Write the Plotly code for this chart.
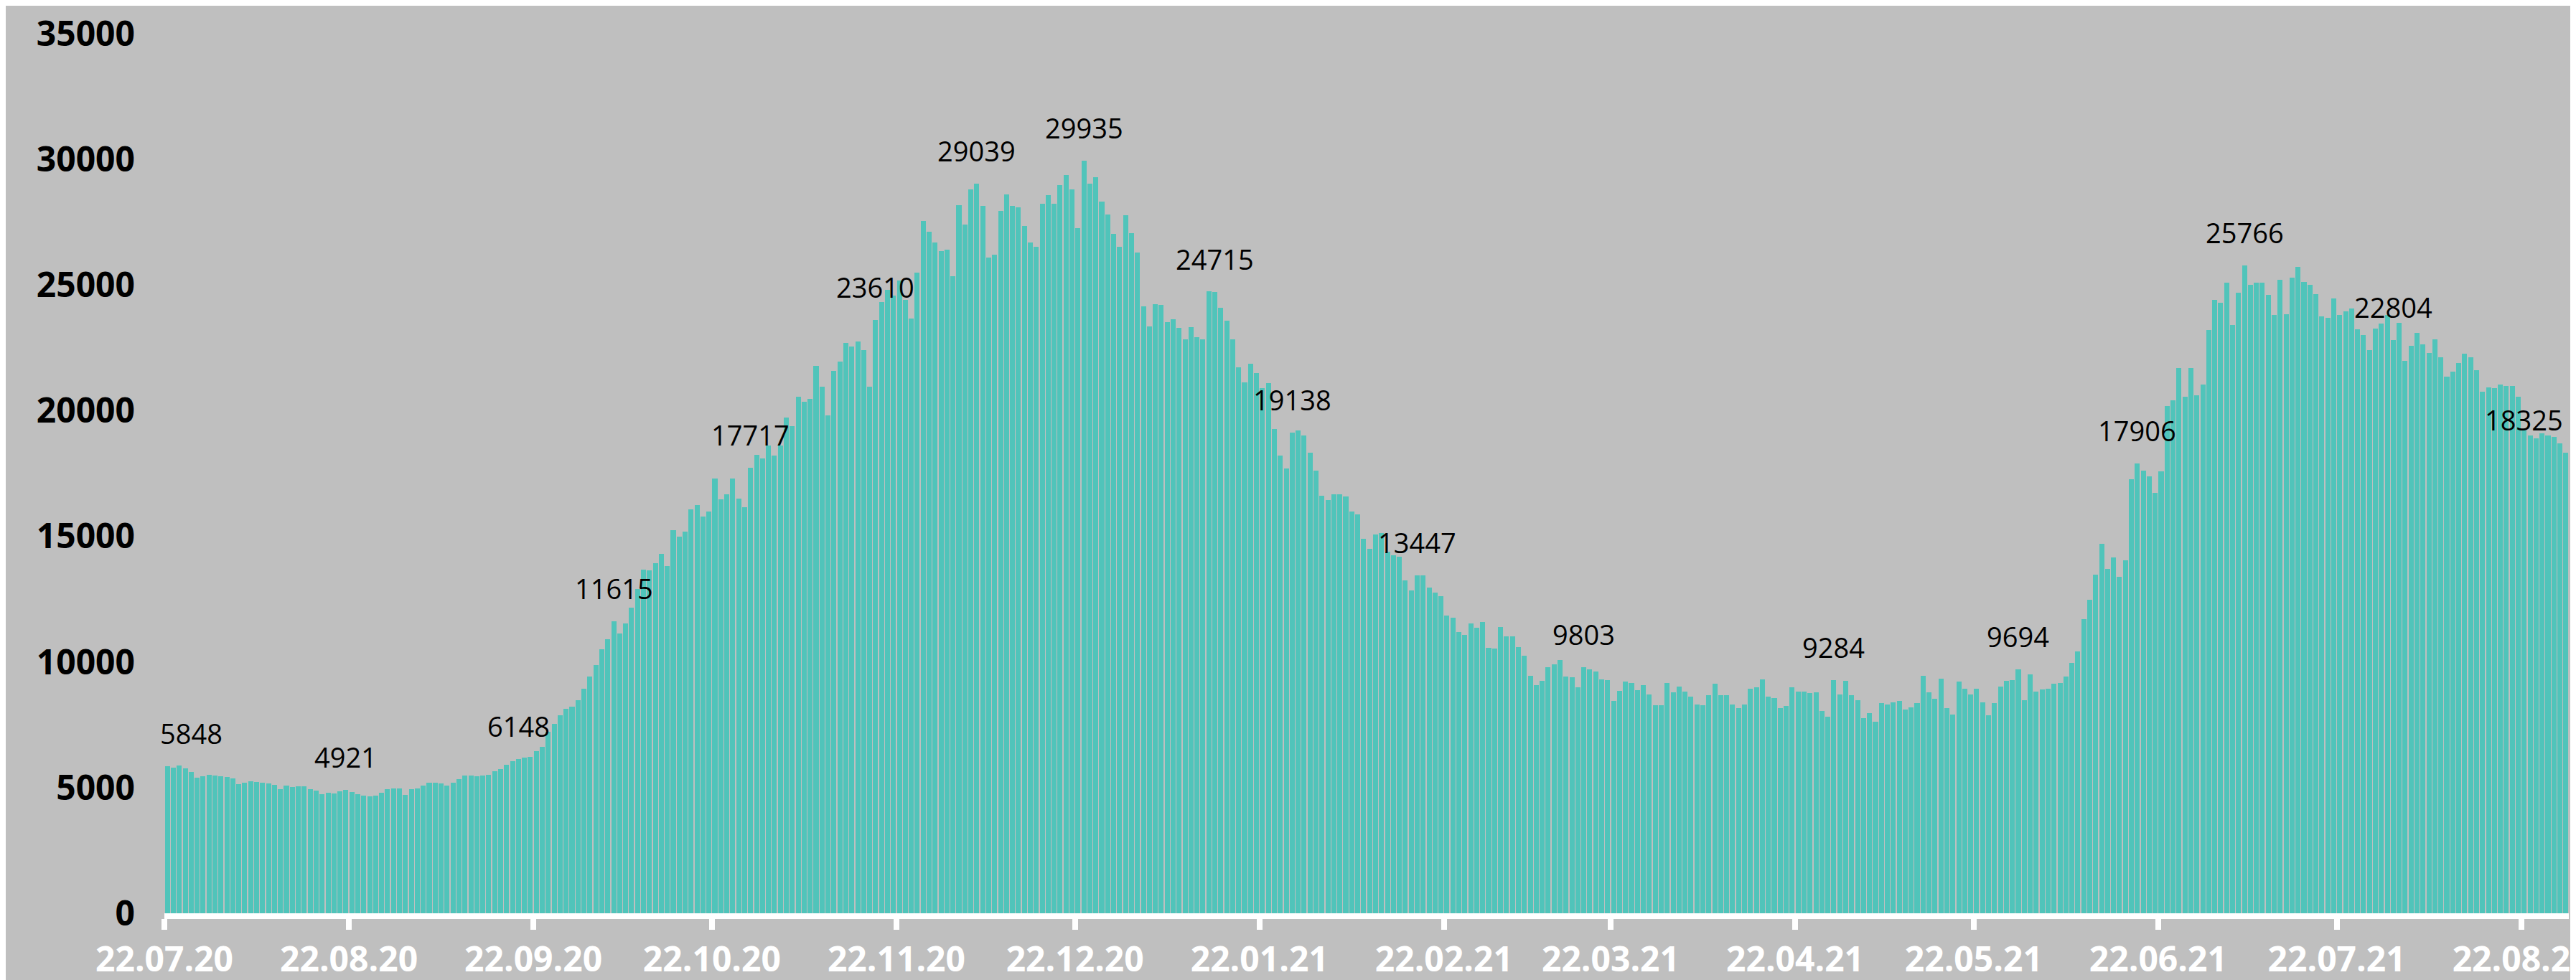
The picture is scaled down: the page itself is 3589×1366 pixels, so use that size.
import plotly.graph_objects as go

values = [
    5848, 5800, 5868, 5761, 5626, 5394, 5462, 5500, 5481, 5452,
    5413, 5375, 5152, 5201, 5249, 5230, 5201, 5172, 5104, 4930,
    5085, 5036, 5046, 5046, 4949, 4872, 4727, 4804, 4756, 4843,
    4921, 4833, 4727, 4669, 4640, 4679, 4804, 4930, 4959, 4969,
    4698, 4930, 4978, 5085, 5191, 5191, 5162, 5075, 5201, 5336,
    5491, 5481, 5442, 5491, 5510, 5665, 5752, 5906, 6061, 6148,
    6206, 6225, 6438, 6612, 7230, 7540, 7880, 8150, 8223, 8468,
    8936, 9415, 9872, 10511, 10915, 11615, 11138, 11521, 12170, 12894,
    13681, 13660, 13936, 14298, 13809, 15234, 15000, 15191, 16085, 16255,
    15798, 16000, 17299, 16481, 16672, 17308, 16510, 16158, 17717, 18249,
    18107, 18600, 18221, 18611, 19741, 19381, 20559, 20369, 20473, 21776,
    20958, 19818, 21595, 21965, 22697, 22555, 22764, 22403, 20958, 23610,
    24313, 24808, 24589, 25168, 24400, 23667, 25492, 27545, 27108, 26690,
    26347, 26404, 25349, 28163, 27411, 28800, 29039, 28154, 26091, 26195,
    27944, 28600, 28154, 28087, 27345, 26690, 26518, 28229, 28571, 28229,
    28970, 29370, 28800, 27260, 29935, 29037, 29284, 28306, 27802, 27022,
    26518, 27764, 27050, 26300, 24152, 23353, 24237, 24209, 23524, 23638,
    23296, 22840, 23315, 22925, 22840, 24760, 24715, 24095, 23581, 22840,
    21719, 21139, 21871, 21500, 20901, 21110, 19266, 18221, 17707, 19138,
    19209, 19010, 18335, 17612, 16605, 16433, 16671, 16662, 16586, 15997,
    15873, 14900, 14508, 15069, 15117, 14384, 14242, 14194, 13254, 12845,
    13447, 13454, 12969, 12769, 12626, 11837, 11751, 11201, 11087, 11534,
    11372, 11580, 10573, 10545, 11391, 11030, 11030, 10602, 10260, 9443,
    9081, 9262, 9794, 9908, 10089, 9433, 9395, 8996, 9803, 9699,
    9623, 9300, 9280, 8453, 8862, 9224, 9167, 8881, 9081, 8710,
    8273, 8273, 9167, 8786, 9014, 8815, 8634, 8321, 8292, 8672,
    9138, 8691, 8691, 8321, 8169, 8321, 8939, 8996, 9319, 8625,
    8577, 8159, 8264, 8986, 8834, 8834, 8777, 8805, 8045, 7836,
    9284, 8720, 9261, 8682, 8482, 7760, 7969, 7627, 8378, 8321,
    8406, 8453, 8111, 8207, 8368, 9461, 8796, 8549, 9328, 8178,
    7912, 9224, 8939, 8710, 8939, 8397, 7874, 8368, 9033, 9243,
    9290, 9694, 8473, 9499, 8824, 8920, 8939, 9138, 9157, 9423,
    9975, 10412, 11700, 12468, 13485, 14702, 13704, 14170, 13381, 14037,
    17259, 17906, 17601, 17373, 16717, 17591, 20196, 20414, 21700, 20557,
    21700, 20623, 21051, 23200, 24400, 24300, 25100, 23400, 24700, 25766,
    25000, 25100, 25100, 24600, 23800, 25200, 23829, 25292, 25710, 25121,
    25016, 24636, 23762, 23696, 24466, 23810, 23943, 24066, 23230, 23011,
    22412, 23268, 23480, 23810, 22804, 23496, 21994, 22583, 23106, 22640,
    22308, 22850, 22137, 21358, 21557, 21908, 22270, 22137, 21605, 20750,
    20939, 20892, 21044, 20978, 20987, 20550, 19200, 19000, 18900, 19100,
    19000, 18950, 18700, 18325,
]

tick_days = [0, 31, 62, 92, 123, 153, 184, 215, 243, 274, 304, 335, 365, 396]
tick_labels = ["22.07.20", "22.08.20", "22.09.20", "22.10.20", "22.11.20",
               "22.12.20", "22.01.21", "22.02.21", "22.03.21", "22.04.21",
               "22.05.21", "22.06.21", "22.07.21", "22.08.21"]
label_idx = [0, 30, 59, 75, 98, 119, 136, 154, 176, 189, 210, 238, 280,
             311, 331, 349, 374, 403]
y_ticks = [0, 5000, 10000, 15000, 20000, 25000, 30000, 35000]

n = len(values)
xs = [i + 0.5 for i in range(n)]

fig = go.Figure()
fig.add_trace(go.Bar(x=xs, y=values, width=0.85,
                     marker=dict(color="#50C4BA", line=dict(width=0)),
                     hoverinfo="y"))

annotations = []
for k in label_idx:
    shift = 0
    if k == 0:
        ax, anchor, shift = 0, "left", -8
    elif k == n - 1:
        ax, anchor, shift = n, "right", -6
    else:
        ax, anchor = k + 0.5, "center"
    annotations.append(dict(x=ax, y=values[k], text=str(values[k]),
                            xanchor=anchor, yanchor="bottom", yshift=18,
                            xshift=shift, showarrow=False,
                            font=dict(family="Open Sans", size=38, color="black")))

fig.update_layout(
    width=3589, height=1366,
    margin=dict(l=221, r=18, t=39, b=101, autoexpand=False),
    paper_bgcolor="#BFBFBF", plot_bgcolor="#BFBFBF",
    showlegend=False, bargap=0,
    annotations=annotations,
    xaxis=dict(range=[0, n], tickmode="array", tickvals=tick_days,
               ticktext=tick_labels, showgrid=False, zeroline=False,
               showline=True, linecolor="white", linewidth=8,
               ticks="outside", ticklen=15, tickwidth=8, tickcolor="white",
               ticklabelstandoff=0, ticklabeloverflow="allow",
               automargin=False,
               tickfont=dict(family="Open Sans", size=48, color="white",
                             weight="bold")),
    yaxis=dict(range=[0, 35000], tickmode="array", tickvals=y_ticks,
               ticktext=[str(v) for v in y_ticks],
               showgrid=False, zeroline=False, showline=False, ticks="",
               ticklabelstandoff=40, automargin=False,
               tickfont=dict(family="Open Sans", size=48, color="black",
                             weight="bold")),
)

fig.write_html("out.html")
